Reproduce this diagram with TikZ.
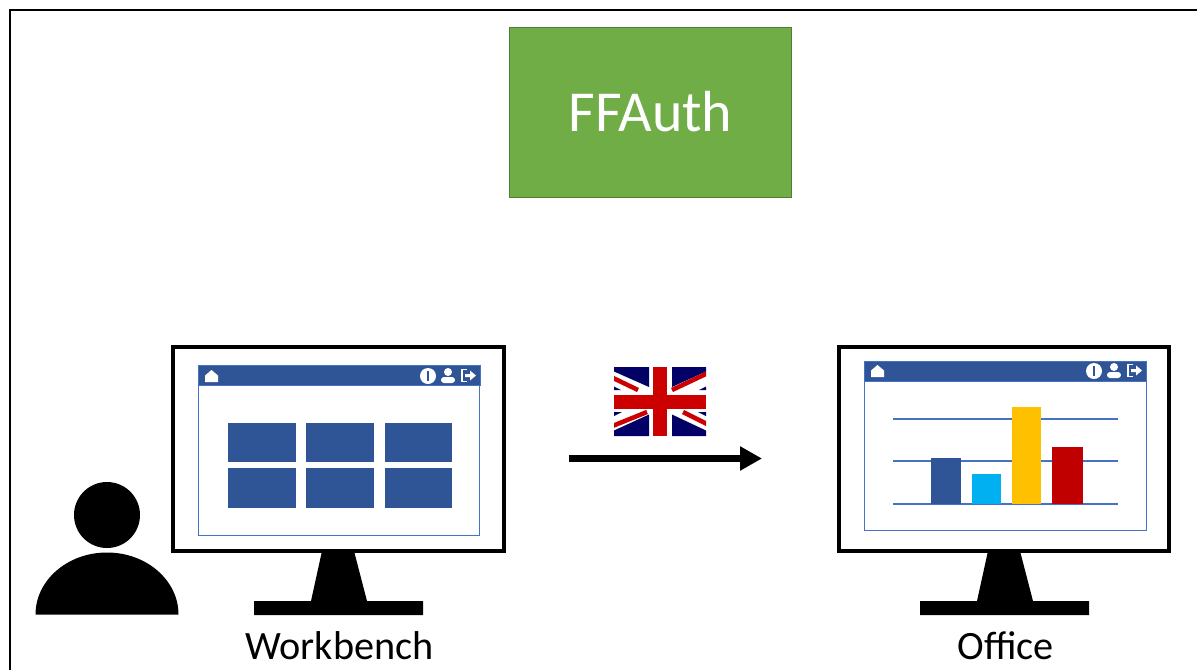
\documentclass[tikz,border=0pt]{standalone}
\usepackage{fontspec}
\setmainfont{Carlito}
\usepackage{xcolor}
\usetikzlibrary{arrows.meta}
\definecolor{authgreen}{HTML}{70AD47}
\definecolor{authedge}{HTML}{507E32}
\definecolor{appblue}{HTML}{2F5597}
\definecolor{thinblue}{HTML}{4472C4}
\definecolor{barcyan}{HTML}{00B0F0}
\definecolor{baryellow}{HTML}{FFC000}
\definecolor{barred}{HTML}{C00000}
\definecolor{flagnavy}{HTML}{000066}
\definecolor{flagred}{HTML}{CC0000}
\tikzset{
	monitor/.style={draw=black,line width=0.08cm,fill=white,minimum width=6.62cm,minimum height=4.08cm,inner sep=0pt},
	screen/.style={draw=thinblue,line width=0.02cm,minimum width=5.64cm,inner sep=0pt},
	titlebar/.style={draw=thinblue,line width=0.01cm,fill=appblue,minimum width=5.64cm,minimum height=0.4cm,inner sep=0pt},
	tile/.style={fill=appblue,minimum width=1.36cm,inner sep=0pt},
	bar/.style={anchor=south,inner sep=0pt},
	gridline/.style={draw=thinblue,line width=0.025cm},
	caption/.style={anchor=base,inner sep=0pt,font=\fontsize{22.9}{26}\selectfont},
}
\begin{document}
\begin{tikzpicture}[x=0.02cm,y=-0.02cm]
		\useasboundingbox (0,0) rectangle (1197,670);
		\draw[line width=0.03cm] (10,670)--(10,10)--(1197,10);
		
		\node[draw=authedge,line width=0.015cm,fill=authgreen,minimum width=5.64cm,minimum height=3.4cm,text=white,font=\fontsize{33}{38}\selectfont] (auth) at (650.5,112) {FFAuth};
		
		\fill[black] (107,515) circle[radius=33];
		\fill[black] (35.5,614.5) arc[start angle=180,end angle=0,x radius=71.5,y radius=-62]--cycle;
		
		\foreach \ox in {0,666}{
			\begin{scope}[shift={(\ox,0)}]
				\fill[black] (322,551)--(354,551)--(367,601)--(423,601)--(423,615)--(254,615)--(254,601)--(311,601)--cycle;
			\end{scope}
		}
		
		\node[monitor] (bench) at (338.5,449) {};
		\node[monitor] (office) at (1004,449) {};
		\node[screen,minimum height=3.42cm] (benchscreen) at (339,450.5) {};
		\node[screen,minimum height=3.4cm] (officescreen) at (1005.5,446) {};
		\node[titlebar] (benchbar) at (339,375) {};
		\node[titlebar] (officebar) at (1005.5,371) {};
		
		\foreach \ox/\oy in {0/0,666/-5}{
			\begin{scope}[shift={(\ox,\oy)}]
				\fill[white] (205,382)--(205,375.5)--(211.5,370)--(218,375.5)--(218,382)--cycle;
				\fill[white] (428,376) circle[radius=8];
				\draw[appblue,line width=0.03cm] (428,371)--(428,381);
				\fill[white] (448,372) circle[radius=4];
				\fill[white,rounded corners=0.06cm] (441,383)--(441,377)--(455,377)--(455,383)--cycle;
				\draw[white,line width=0.025cm] (467,369.5)--(462,369.5)--(462,381.5)--(467,381.5);
				\fill[white] (465,374)--(470,374)--(470,370.5)--(476,375.5)--(470,380.5)--(470,377)--(465,377)--cycle;
			\end{scope}
		}
		
		\foreach \col/\tx in {a/262,b/340,c/418.5}{
			\node[tile,minimum height=0.78cm] (tile\col1) at (\tx,442.5) {};
			\node[tile,minimum height=0.8cm] (tile\col2) at (\tx,488) {};
		}
		
		\foreach \gy in {419,461,504}{
			\draw[gridline] (893,\gy)--(1118,\gy);
		}
		\node[bar,fill=appblue,minimum width=0.6cm,minimum height=0.92cm] (barone) at (946,504) {};
		\node[bar,fill=barcyan,minimum width=0.58cm,minimum height=0.6cm] (bartwo) at (986.5,504) {};
		\node[bar,fill=baryellow,minimum width=0.58cm,minimum height=1.94cm] (barthree) at (1026.5,504) {};
		\node[bar,fill=barred,minimum width=0.62cm,minimum height=1.14cm] (barfour) at (1067.5,504) {};
		
		\begin{scope}
			\clip (614,367) rectangle (706,436);
			\fill[white] (614,367) rectangle (706,436);
			\fill[flagnavy] (614,367)--(649,367)--(649,387)--(614,371.5)--cycle;
			\fill[flagnavy] (672,367)--(706,367)--(706,371.5)--(672,387)--cycle;
			\fill[flagnavy] (614,436)--(649,436)--(649,414.5)--(614,430.5)--cycle;
			\fill[flagnavy] (672,436)--(706,436)--(706,430.5)--(672,414.5)--cycle;
			\fill[flagnavy] (614,386.5)--(621,390)--(614,390)--cycle;
			\fill[flagnavy] (706,386.5)--(699,390)--(706,390)--cycle;
			\fill[flagnavy] (614,416)--(622,412)--(614,412)--cycle;
			\fill[flagnavy] (706,416)--(698,412)--(706,412)--cycle;
			\draw[flagred,line width=0.09cm] (610,376.5)--(638,390);
			\draw[flagred,line width=0.09cm] (672,390)--(710,372);
			\draw[flagred,line width=0.09cm] (610,427)--(647,412);
			\draw[flagred,line width=0.09cm] (683,412)--(710,425.5);
			\fill[flagred] (653.3,367) rectangle (667.3,436);
			\fill[flagred] (614,394.5) rectangle (706,408.5);
		\end{scope}
		
		\coordinate (arrowstart) at (569,458.5);
		\coordinate (arrowend) at (762,458.5);
		\draw[-{Triangle[length=0.44cm,width=0.46cm]},line width=0.14cm] (arrowstart)--(arrowend);
		
		\node[caption] (benchlabel) at (339.5,659) {Workbench};
		\node[caption] (officelabel) at (1005.5,659) {Office};
	\end{tikzpicture}
\end{document}
